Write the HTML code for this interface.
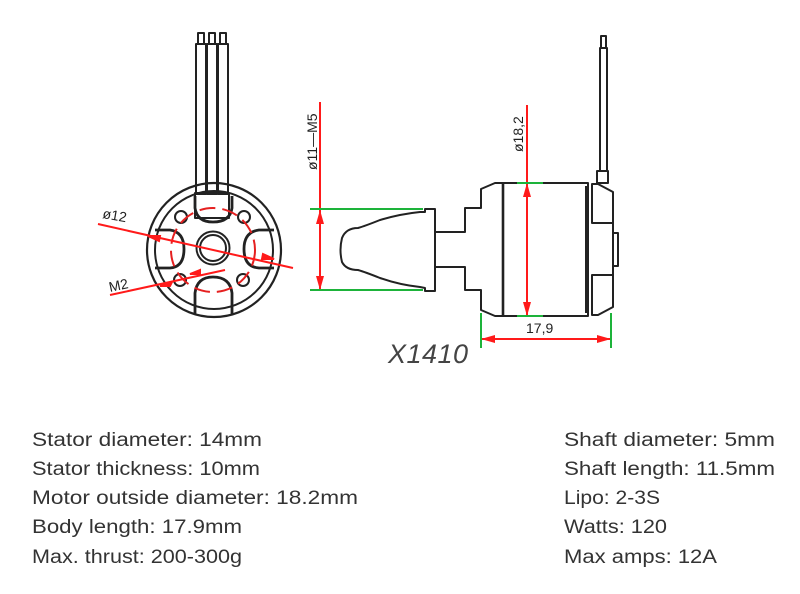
<!DOCTYPE html>
<html><head><meta charset="utf-8"><style>
html,body{margin:0;padding:0;background:#fff}
svg{display:block}
.t{font-family:"Liberation Sans",sans-serif;font-size:19px;fill:#333}
</style></head><body>
<svg width="800" height="594" viewBox="0 0 800 594" xmlns="http://www.w3.org/2000/svg">
<g fill="none" stroke="#222" stroke-width="2" stroke-linejoin="round">
<rect x="196" y="44" width="10" height="150"/>
<rect x="207" y="44" width="10" height="150"/>
<rect x="218" y="44" width="10" height="150"/>
<rect x="198" y="33" width="6" height="11"/>
<rect x="209" y="33" width="6" height="11"/>
<rect x="220" y="33" width="6" height="11"/>
<rect x="195" y="193" width="34" height="25"/>
<circle cx="214" cy="250" r="67" stroke-width="2.2"/>
<circle cx="214" cy="250" r="59"/>
<circle cx="213" cy="248" r="16.5"/>
<circle cx="213" cy="248" r="13"/>
<circle cx="181" cy="217" r="6"/>
<circle cx="244" cy="217" r="6"/>
<circle cx="180" cy="280" r="6"/>
<circle cx="243" cy="280" r="6"/>
<path d="M195,196 L195,208 Q197,222 213,222 Q230,222 232,208 L232,196" stroke-width="2.8"/>
<path d="M155,230 L170,230 Q184,232 184,249 Q184,267 170,268 L155,268" stroke-width="2.8"/>
<path d="M274,230 L259,230 Q244,232 244,249 Q244,267 259,268 L274,268" stroke-width="2.8"/>
<path d="M195,314 L195,293 Q197,277 213,277 Q230,277 232,293 L232,314" stroke-width="2.8"/>
<path d="M425,209 L435,209 L435,291 L425,291 L425,288 L420,287 Q400,285 380,278 Q365,272 358,270 Q346,270 342,262 Q339,250 342,238 Q346,228 358,228 Q365,226 380,220 Q400,214 420,212 L425,212 Z"/>
<path d="M435,232 L465,232 L465,208 L481,208 L481,189 L495,183 L588,183 L588,316 L495,316 L481,310 L481,290 L465,290 L465,267 L435,267"/>
<line x1="503" y1="183" x2="503" y2="316" stroke-width="2.6"/>
<line x1="586" y1="186" x2="586" y2="313"/>
<path d="M592,184 L598,184 L613,192 L613,223 L592,223 Z"/>
<path d="M592,223 L613,223 L613,275 L592,275"/>
<path d="M592,315 L598,315 L613,307 L613,275 L592,275 Z"/>
<rect x="613" y="233" width="5" height="33"/>
<rect x="597" y="171" width="11" height="12"/>
<rect x="600" y="48" width="7" height="123"/>
<rect x="601" y="36" width="5" height="12"/>
</g>
<circle cx="213" cy="250" r="42" fill="none" stroke="#e52020" stroke-width="2" stroke-dasharray="16 7"/>
<g stroke="#ff1a1a" stroke-width="2" fill="#ff1a1a">
<line x1="98" y1="224" x2="293" y2="268"/>
<line x1="110" y1="295" x2="225" y2="270"/>
<polygon points="160,236 148,236 159,241" />
<polygon points="262,259 274,259 263,254"/>
<polygon points="200,270 190,274 200,274"/>
<polygon points="160,286 172,282 170,286"/>
<line x1="320" y1="102" x2="320" y2="290"/>
<polygon points="320,210 316,224 324,224" stroke="none"/>
<polygon points="320,290 316,276 324,276" stroke="none"/>
<line x1="527" y1="105" x2="527" y2="316"/>
<polygon points="527,183 523,197 531,197" stroke="none"/>
<polygon points="527,316 523,302 531,302" stroke="none"/>
<line x1="481" y1="339" x2="611" y2="339"/>
<polygon points="481,339 495,335 495,343" stroke="none"/>
<polygon points="611,339 597,335 597,343" stroke="none"/>
</g>
<g stroke="#1db33a" stroke-width="2">
<line x1="310" y1="209" x2="423" y2="209"/>
<line x1="310" y1="290" x2="423" y2="290"/>
<line x1="517" y1="183" x2="543" y2="183"/>
<line x1="517" y1="316" x2="543" y2="316"/>
<line x1="481" y1="313" x2="481" y2="348"/>
<line x1="611" y1="313" x2="611" y2="348"/>
</g>
<g font-family="Liberation Sans,sans-serif" font-size="14" fill="#222">
<text x="102" y="218" transform="rotate(10 102 218)">ø12</text>
<text x="110" y="292" transform="rotate(-12 110 292)">M2</text>
<text transform="translate(317,170) rotate(-90)">ø11—M5</text>
<text transform="translate(523,152) rotate(-90)">ø18,2</text>
<text x="526" y="333">17,9</text>
</g>
<text x="388" y="363" font-family="Liberation Sans,sans-serif" font-style="italic" font-size="27" fill="#444" textLength="80">X1410</text>
<g class="t" lengthAdjust="spacingAndGlyphs">
<text x="32" y="446" textLength="230" lengthAdjust="spacingAndGlyphs">Stator diameter: 14mm</text>
<text x="32" y="475" textLength="228" lengthAdjust="spacingAndGlyphs">Stator thickness: 10mm</text>
<text x="32" y="504" textLength="326" lengthAdjust="spacingAndGlyphs">Motor outside diameter: 18.2mm</text>
<text x="32" y="533" textLength="210" lengthAdjust="spacingAndGlyphs">Body length: 17.9mm</text>
<text x="32" y="563" textLength="210" lengthAdjust="spacingAndGlyphs">Max. thrust: 200-300g</text>
<text x="564" y="446" textLength="211" lengthAdjust="spacingAndGlyphs">Shaft diameter: 5mm</text>
<text x="564" y="475" textLength="211" lengthAdjust="spacingAndGlyphs">Shaft length: 11.5mm</text>
<text x="564" y="504" textLength="96" lengthAdjust="spacingAndGlyphs">Lipo: 2-3S</text>
<text x="564" y="533" textLength="103" lengthAdjust="spacingAndGlyphs">Watts: 120</text>
<text x="564" y="563" textLength="153" lengthAdjust="spacingAndGlyphs">Max amps: 12A</text>
</g>
</svg>
</body></html>
